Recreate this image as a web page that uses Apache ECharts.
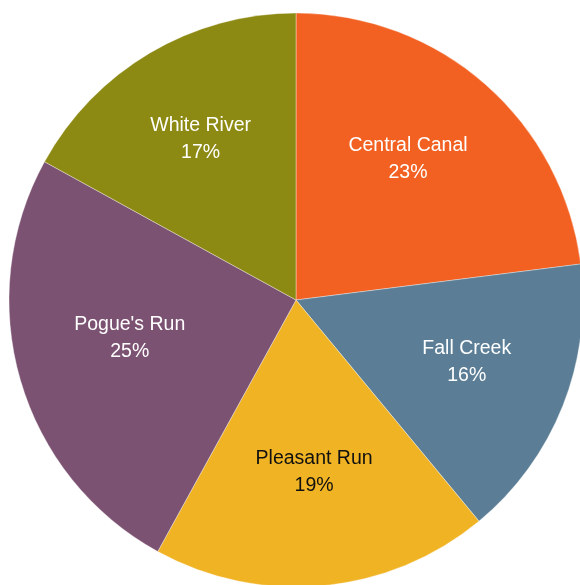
<!DOCTYPE html>
<html>
<head>
<meta charset="utf-8">
<script src="https://cdn.jsdelivr.net/npm/echarts@6/dist/echarts.min.js"></script>
<style>
  html, body { margin: 0; padding: 0; background: #fff; }
  #chart { width: 580px; height: 585px; }
</style>
</head>
<body>
<div id="chart"></div>
<script>
// Share of each waterway, clockwise from 12 o'clock
const names = ['Central Canal', 'Fall Creek', 'Pleasant Run', "Pogue's Run", 'White River'];
const shares = [23, 16, 19, 25, 17];
const colors = ['#F26122', '#5B7E96', '#F0B323', '#7C5272', '#8D8A14'];
const labelColors = ['#ffffff', '#ffffff', '#111111', '#ffffff', '#ffffff'];

const chart = echarts.init(document.getElementById('chart'), null, { renderer: 'canvas' });

const center = [296, 300];
const outer = 287;

// small per-slice nudges for the label blocks
const nudge = [[-8, -5], [2, -5], [1, -9], [8, -13], [-3, -5]];

const sliceData = names.map((n, i) => ({
  name: n,
  value: shares[i],
  itemStyle: { color: colors[i] }
}));

const labelData = names.map((n, i) => ({
  name: n,
  value: shares[i],
  label: { color: labelColors[i], offset: nudge[i] }
}));

chart.setOption({
  animation: false,
  series: [
    {
      type: 'pie',
      center: center,
      radius: [0, outer],
      startAngle: 90,
      clockwise: true,
      silent: true,
      label: { show: false },
      labelLine: { show: false },
      itemStyle: { borderColor: 'rgba(255,255,255,0.6)', borderWidth: 0.6 },
      data: sliceData
    },
    {
      // transparent ring that only carries the in-slice labels
      type: 'pie',
      center: center,
      radius: [70, outer],
      startAngle: 90,
      clockwise: true,
      silent: true,
      itemStyle: { color: 'rgba(0,0,0,0)' },
      labelLine: { show: false },
      label: {
        show: true,
        position: 'inside',
        fontFamily: 'Liberation Sans, Arial, sans-serif',
        fontSize: 19.5,
        lineHeight: 27,
        formatter: p => p.name + '\n' + p.value + '%'
      },
      data: labelData
    }
  ]
});
</script>
</body>
</html>
